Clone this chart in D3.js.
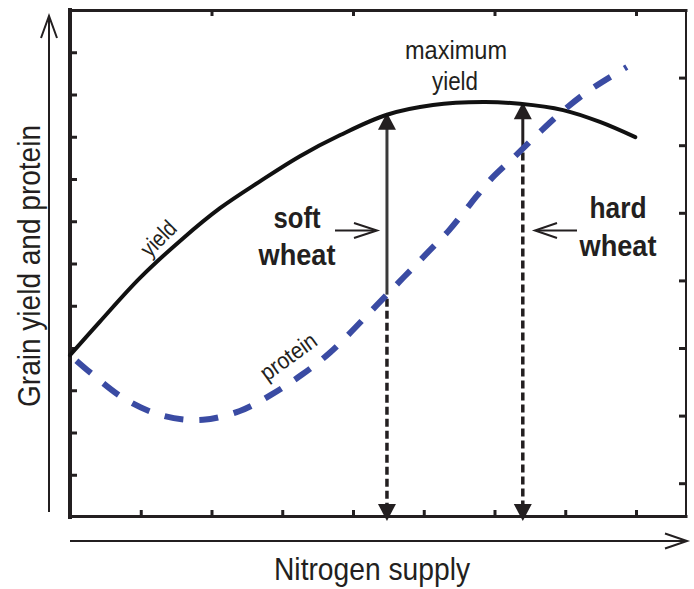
<!DOCTYPE html>
<html>
<head>
<meta charset="utf-8">
<script src="https://cdn.jsdelivr.net/npm/d3@7"></script>
<style>
  html, body { margin: 0; padding: 0; background: #fff; }
  svg { display: block; }
</style>
</head>
<body>
<svg id="chart" width="694" height="589"></svg>
<script>
// ---- data (arbitrary units: x = nitrogen supply, y = grain yield / protein) ----
const yieldX   = [0, 0.42, 0.99, 1.6, 2.12, 2.69, 3.25, 3.82, 4.48, 5.13, 5.84, 6.36, 6.97, 7.49, 7.99];
const yieldY   = [3.83, 4.62, 5.66, 6.6, 7.31, 7.95, 8.54, 9.04, 9.52, 9.75, 9.82, 9.78, 9.63, 9.35, 8.99];
const proteinX = [0.03, 0.28, 0.78, 1.33, 1.88, 2.4, 2.84, 3.27, 3.68, 4.34, 4.72, 5.05, 5.36, 5.65, 5.94, 6.29, 6.64, 6.98, 7.35, 7.87];
const proteinY = [3.79, 3.43, 2.79, 2.39, 2.3, 2.51, 2.89, 3.36, 3.9, 5.02, 5.68, 6.25, 6.79, 7.39, 7.98, 8.54, 9.11, 9.63, 10.11, 10.65];
const markerNames = ["soft", "hard"];
const markerX  = [4.48, 6.40];
const bottomTicks = [1, 2, 3, 4, 5, 6, 7, 8];
const topTicks    = [2, 4, 6, 8];
const leftTicks   = [1, 2, 3, 4, 5, 6, 7, 8, 9, 10, 11];
const rightTicks  = [0.5, 1.5, 2.5, 3.5, 4.5, 5.5, 6.5];
const xLabel = "Nitrogen supply";
const yLabel = "Grain yield and protein";

// ---- layout ----
const L = 70, R = 686, T = 10, B = 517;
const INK = "#231f20", BLUE = "#3a4ba3";
const FONT = "'Liberation Sans', Arial, Helvetica, sans-serif";

const svg = d3.select("#chart");
svg.append("rect").attr("width", 694).attr("height", 589).attr("fill", "#fff");

const x  = d3.scaleLinear().domain([0, (R - L) / 70.75]).range([L, R]);
const y  = d3.scaleLinear().domain([0, 12]).range([B, T]);
const yR = d3.scaleLinear().domain([0, 7.5]).range([B, T]);

// ---- ticks (inward) ----
function styleAxis(g) {
  g.select(".domain").remove();
  g.selectAll(".tick line").attr("stroke", INK).attr("stroke-width", 3);
  g.selectAll(".tick text").remove();
}
svg.append("g").attr("transform", `translate(0,${B})`)
  .call(d3.axisBottom(x).tickValues(bottomTicks).tickSizeInner(-7).tickSizeOuter(0).tickFormat(""))
  .call(styleAxis);
svg.append("g").attr("transform", `translate(0,${T})`)
  .call(d3.axisTop(x).tickValues(topTicks).tickSizeInner(-6).tickSizeOuter(0).tickFormat(""))
  .call(styleAxis);
svg.append("g").attr("transform", `translate(${L},0)`)
  .call(d3.axisLeft(y).tickValues(leftTicks).tickSizeInner(-7).tickSizeOuter(0).tickFormat(""))
  .call(styleAxis);
svg.append("g").attr("transform", `translate(${R},0)`)
  .call(d3.axisRight(yR).tickValues(rightTicks).tickSizeInner(-7).tickSizeOuter(0).tickFormat(""))
  .call(styleAxis);

// ---- frame ----
const frame = svg.append("g").attr("stroke", INK).attr("stroke-linecap", "square");
frame.append("line").attr("x1", L).attr("x2", L).attr("y1", T).attr("y2", B).attr("stroke-width", 4);
frame.append("line").attr("x1", L).attr("x2", R).attr("y1", T + 0.5).attr("y2", T + 0.5).attr("stroke-width", 3);
frame.append("line").attr("x1", R).attr("x2", R).attr("y1", T).attr("y2", B).attr("stroke-width", 2);
frame.append("line").attr("x1", L).attr("x2", R).attr("y1", B - 0.5).attr("y2", B - 0.5).attr("stroke-width", 3);

// ---- curves ----
const line = d3.line().x(d => x(d[0])).y(d => y(d[1])).curve(d3.curveCatmullRom.alpha(0.5));
const yieldData = yieldX.map((v, i) => [v, yieldY[i]]);
const proteinData = proteinX.map((v, i) => [v, proteinY[i]]);

function interp(xs, ys, v) {
  for (let i = 0; i < xs.length - 1; i++) {
    if (v >= xs[i] && v <= xs[i + 1]) {
      const t = (v - xs[i]) / (xs[i + 1] - xs[i]);
      return ys[i] + t * (ys[i + 1] - ys[i]);
    }
  }
  return ys[ys.length - 1];
}

// vertical marker arrows
markerX.forEach((mx, i) => {
  const px = x(mx);
  const yTop = y(interp(yieldX, yieldY, mx));
  const yProt = y(interp(proteinX, proteinY, mx));
  const g = svg.append("g");
  g.append("line").attr("x1", px).attr("x2", px).attr("y1", yProt).attr("y2", yTop + 12)
    .attr("stroke", i === 0 ? "#3a3a3a" : INK).attr("stroke-width", 3);
  g.append("path")
    .attr("d", `M${px},${yTop - 2} L${px - 9},${yTop + 15} L${px + 9},${yTop + 15} Z`)
    .attr("fill", INK);
  g.append("line").attr("x1", px).attr("x2", px).attr("y1", yProt + 4).attr("y2", B - 12)
    .attr("stroke", INK).attr("stroke-width", 3.5).attr("stroke-dasharray", "8,4");
  g.append("path")
    .attr("d", `M${px},${B + 4} L${px - 9},${B - 13} L${px + 9},${B - 13} Z`)
    .attr("fill", INK);
});

svg.append("path").datum(yieldData).attr("d", line)
  .attr("fill", "none").attr("stroke", "#111").attr("stroke-width", 4).attr("stroke-linecap", "round");
svg.append("path").datum(proteinData).attr("d", line)
  .attr("fill", "none").attr("stroke", BLUE).attr("stroke-width", 6)
  .attr("stroke-dasharray", "19,16").attr("stroke-dashoffset", -6);

// ---- axis arrows ----
const arrows = svg.append("g").attr("stroke", INK).attr("stroke-width", 2).attr("fill", "none");
arrows.append("line").attr("x1", 49).attr("x2", 49).attr("y1", 512).attr("y2", 17);
arrows.append("path").attr("d", "M41,38 L49,16 L57,38");
arrows.append("line").attr("x1", 70).attr("x2", 686).attr("y1", 541).attr("y2", 541);
arrows.append("path").attr("d", "M665,533.5 L687,541 L665,548.5");

// ---- texts (condensed look via textLength) ----
const txt = svg.append("g").attr("font-family", FONT).attr("fill", INK);
function label(parent, text, opts) {
  const t = parent.append("text").attr("text-anchor", "middle")
    .attr("font-size", opts.size).attr("textLength", opts.len).attr("lengthAdjust", "spacingAndGlyphs")
    .text(text);
  if (opts.rot !== undefined) t.attr("transform", `translate(${opts.x},${opts.y}) rotate(${opts.rot})`);
  else t.attr("x", opts.x).attr("y", opts.y);
  if (opts.bold) t.attr("font-weight", "bold");
  return t;
}
label(txt, xLabel, { x: 372, y: 580, size: 32, len: 196 });
label(txt, yLabel, { x: 40, y: 266, rot: -90, size: 32, len: 282 });
label(txt, "maximum", { x: 456, y: 59, size: 26, len: 102 });
label(txt, "yield", { x: 455, y: 90, size: 26, len: 46 });
label(txt, "yield", { x: 164, y: 244, rot: -45, size: 23, len: 40 });
label(txt, "protein", { x: 293, y: 363, rot: -36, size: 23, len: 64 });
label(txt, "soft", { x: 297, y: 228, size: 30, len: 47, bold: true });
label(txt, "wheat", { x: 297, y: 265, size: 30, len: 77, bold: true });
label(txt, "hard", { x: 618, y: 218, size: 30, len: 57, bold: true });
label(txt, "wheat", { x: 618, y: 256, size: 30, len: 77, bold: true });

// small pointer arrows
const ptr = svg.append("g").attr("stroke", INK).attr("stroke-width", 2).attr("fill", "none");
ptr.append("line").attr("x1", 335).attr("x2", 376).attr("y1", 230.5).attr("y2", 230.5);
ptr.append("path").attr("d", "M354,223 L377,230.5 L354,238");
ptr.append("line").attr("x1", 536).attr("x2", 577).attr("y1", 230.5).attr("y2", 230.5);
ptr.append("path").attr("d", "M557,223 L535,230.5 L557,238");
</script>
</body>
</html>
